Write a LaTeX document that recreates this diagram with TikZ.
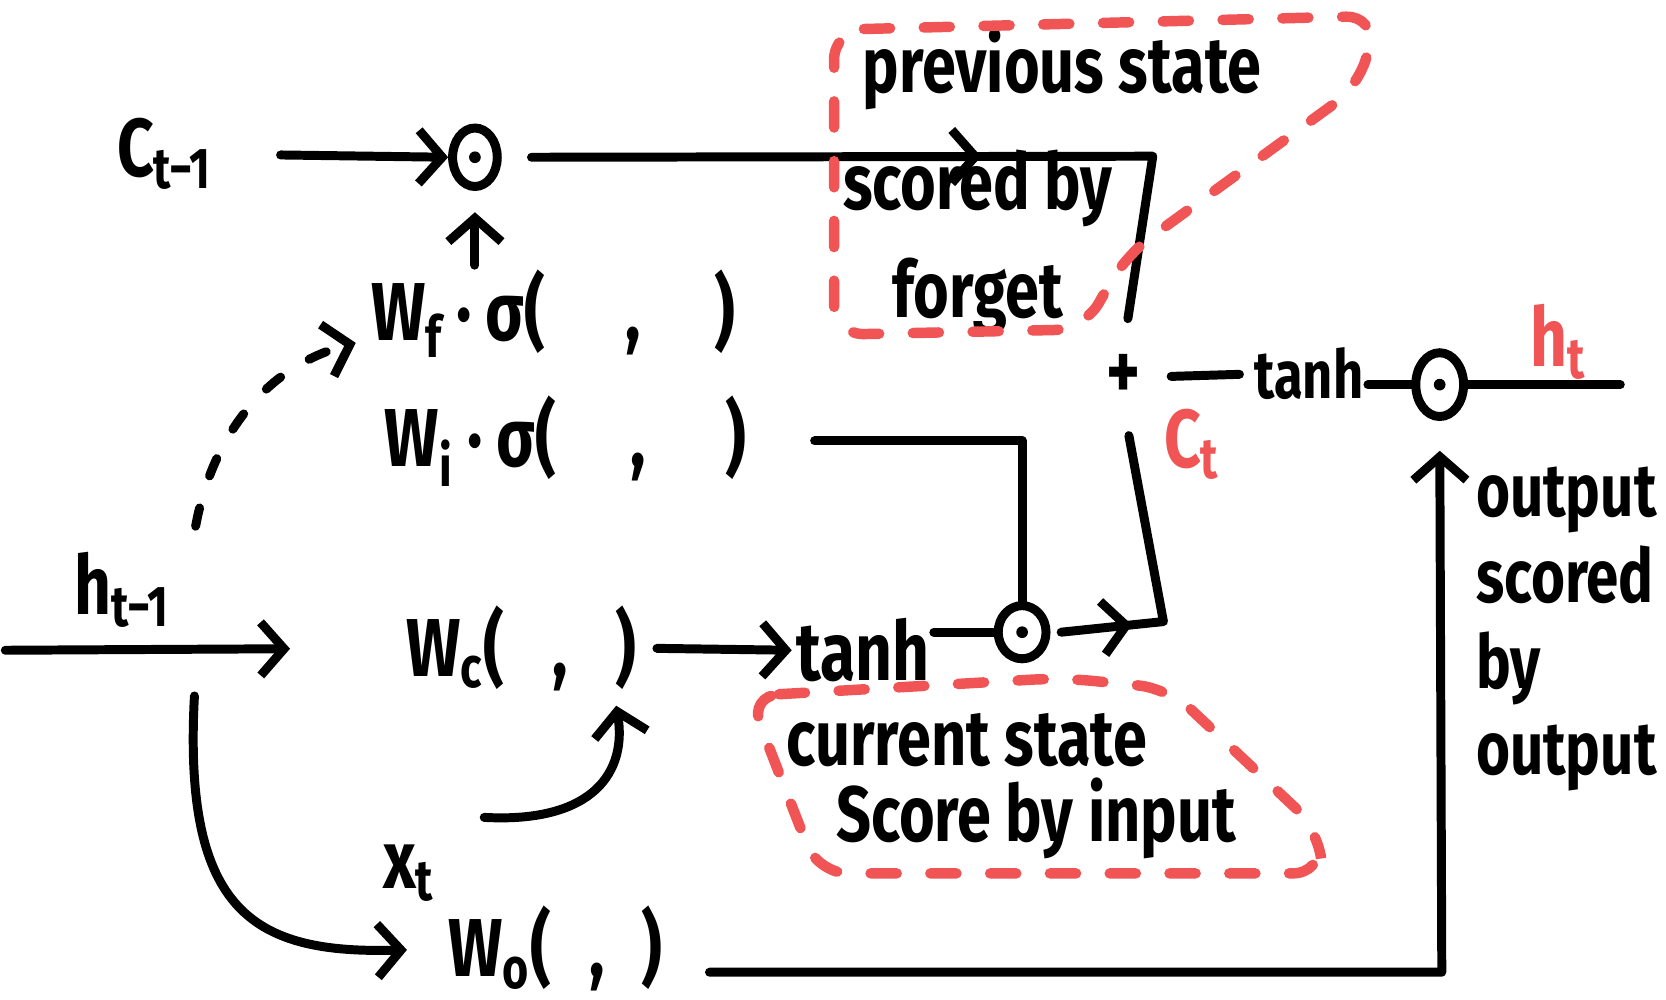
\documentclass[tikz,border=0pt]{standalone}
\usepackage{fontspec}
\newfontfamily\hand{Fira Sans}[FakeStretch=0.78]
\usetikzlibrary{arrows.meta,shapes.geometric,decorations.markings}

\definecolor{markred}{RGB}{240,84,84}

\tikzset{
    txt/.style={font=\hand\bfseries\fontsize{22}{26}\selectfont, inner sep=1pt},
    small/.style={font=\hand\bfseries\fontsize{18}{22}\selectfont, inner sep=1pt},
    note/.style={font=\hand\bfseries\fontsize{21}{23}\selectfont, inner sep=1pt},
    gate/.style={draw, ellipse, line width=2.4pt, inner sep=0pt,
        path picture={\fill (path picture bounding box.center) circle (0.055cm);}},
    wire/.style={line width=2.4pt, line cap=round, line join=round},
    tip/.style={-{Straight Barb[length=2.2mm,width=5mm]}},
    midtip/.style={postaction={decorate}, decoration={markings,
        mark=at position #1 with {\arrow{Straight Barb[length=2.2mm,width=5mm]}}}},
    hint/.style={draw=markred, line width=2.8pt, line cap=round,
        dash pattern=on 7pt off 9pt, rounded corners=8pt},
}

\begin{document}
\begin{tikzpicture}[x=0.01cm, y=-0.01cm]
    \useasboundingbox (0,0) rectangle (1568,941);

    % inputs and weights
    \node[txt] (ct1) at (155,145) {C\textsubscript{t−1}};
    \node[txt] (ht1) at (115,555) {h\textsubscript{t−1}};
    \node[txt] (xt) at (385,822) {x\textsubscript{t}};
    \node[txt, anchor=west] (wf) at (345,295) {W\textsubscript{f}\,·\,σ(\hspace{0.75cm},\hspace{0.7cm})};
    \node[txt, anchor=west] (wi) at (358,415) {W\textsubscript{i}\,·\,σ(\hspace{0.7cm},\hspace{0.75cm})};
    \node[txt, anchor=west] (wc) at (378,610) {W\textsubscript{c}(\hspace{0.45cm},\hspace{0.45cm})};
    \node[txt, anchor=west] (wo) at (418,893) {W\textsubscript{o}(\hspace{0.35cm},\hspace{0.35cm})};

    % gates
    \node[gate, minimum width=0.42cm, minimum height=0.55cm] (g1) at (447,148) {};
    \node[gate, minimum width=0.45cm, minimum height=0.5cm] (g2) at (962,595) {};
    \node[gate, minimum width=0.45cm, minimum height=0.6cm] (g3) at (1355,362) {};
    \node[txt] (th1) at (812,612) {tanh};
    \node[txt] (plus) at (1057,355) {+};
    \node[small] (th2) at (1232,352) {tanh};

    % outputs
    \node[txt, text=markred] (ht) at (1467,322) {h\textsubscript{t}};
    \node[txt, text=markred] (ct) at (1122,418) {C\textsubscript{t}};
    \coordinate (hin) at (5,612);
    \coordinate (hout) at (1525,362);
    \coordinate (hdown) at (183,655);
    \coordinate (k1) at (1085,147);
    \coordinate (k2) at (1095,585);
    \coordinate (k4) at (1357,915);

    % notes
    \node[note, anchor=west] (prev) at (808,65) {previous state};
    \node[note, align=center] (forget) at (920,228) {scored by\\[6pt]forget};
    \node[note] (cur) at (910,697) {current state};
    \node[note] (inp) at (975,770) {Score by input};
    \node[note, align=left, anchor=north west, font=\hand\bfseries\fontsize{20}{23}\selectfont]
        (outn) at (1385,435) {output\\scored\\by\\output};

    % cell state path
    \draw[wire, tip, shorten <=0.6cm] (ct1.east) -- (g1.west);
    \draw[wire, midtip=0.55, shorten >=0.3cm] ([xshift=0.28cm]g1.east) -- (k1) -- (plus.north);
    \draw[wire, tip, shorten >=0.2cm] (g1 |- wf.north) -- (g1.south);
    \draw[wire, tip, dash pattern=on 5pt off 9pt, shorten >=3pt]
        ([xshift=0.2cm,yshift=0.2cm]ht1.north east) .. controls (200,410) and (250,345) .. ([yshift=-0.25cm]wf.west);

    % candidate path
    \draw[wire, tip, shorten >=1.05cm] (hin) -- (wc.west);
    \draw[wire, tip, shorten >=0.35cm] (hdown) .. controls (172,860) and (240,898) .. (wo.west);
    \draw[wire, tip, shorten >=0.1cm]
        ([xshift=0.42cm,yshift=0.22cm]xt.north east) .. controls (560,775) and (590,725) .. ([xshift=-0.25cm]wc.south east);
    \draw[wire, tip, shorten <=0.15cm] (wc.east) -- (th1.west);
    \draw[wire] (th1.east |- g2.west) -- (g2.west);
    \draw[wire] ([xshift=0.6cm]wi.east) -| (g2.north);
    \draw[wire, midtip=0.22, shorten >=0.3cm] ([xshift=0.1cm]g2.east) -- (k2) -- (plus.south);

    % output path
    \draw[wire, shorten <=0.25cm, shorten >=0.1cm] (plus.east) -- (th2.west);
    \draw[wire] (th2.east |- g3.west) -- (g3.west);
    \draw[wire] (g3.east) -- (hout);
    \draw[wire, tip, shorten >=0.28cm] ([xshift=0.4cm,yshift=-0.22cm]wo.east) -- (k4) -- (g3.south);

    % red marks
    \draw[hint] (785,28) -- (1295,15) -- (1280,80) -- (1060,240) -- (1020,310) -- (785,315) -- cycle;
    \draw[hint] (705,655) -- (1000,638) -- (1100,648) -- (1240,780) -- (1245,822) -- (770,822) -- cycle;
\end{tikzpicture}
\end{document}
